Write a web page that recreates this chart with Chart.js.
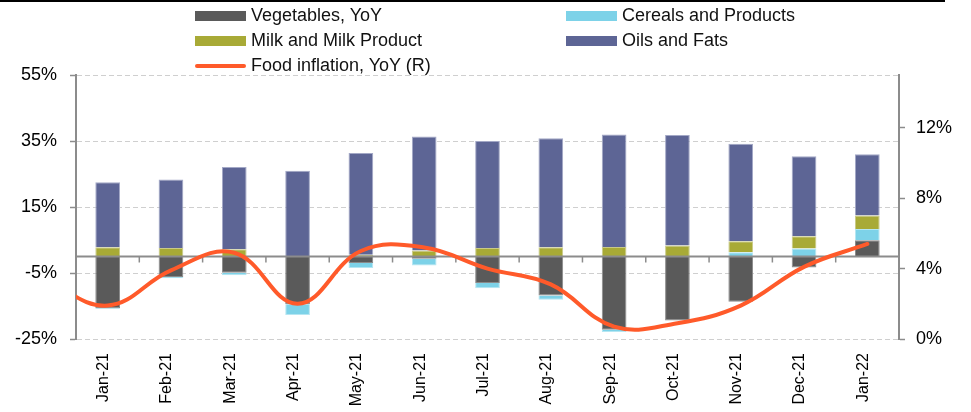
<!DOCTYPE html>
<html>
<head>
<meta charset="utf-8">
<script src="https://cdn.jsdelivr.net/npm/chart.js@4"></script>
<style>
  body { margin: 0; background: #fff; }
  #wrap { position: relative; width: 971px; height: 412px; }
  #topRule { position: absolute; left: 0; top: 0; width: 945px; height: 2px; background: #000; }
  #legend { position: absolute; left: 0; top: 0; width: 971px; height: 80px;
    font-family: 'Liberation Sans', Arial, sans-serif; font-size: 18px; color: #111; }
  .item { position: absolute; height: 25px; display: flex; align-items: center; white-space: nowrap; }
  .sw { width: 51px; height: 10px; margin-right: 5px; }
  .sw.line { height: 4px; border-radius: 2px; }
</style>
</head>
<body>
<div id="wrap">
  <canvas id="chart" width="971" height="412"></canvas>
  <div id="topRule"></div>
  <div id="legend"></div>
</div>
<script>
const months = ['Jan-21', 'Feb-21', 'Mar-21', 'Apr-21', 'May-21', 'Jun-21', 'Jul-21',
                'Aug-21', 'Sep-21', 'Oct-21', 'Nov-21', 'Dec-21', 'Jan-22'];
const vegetables = [-15.7, -6.2, -4.9, -14.5, -2.0, -0.7, -8.0, -11.8, -22.2, -19.4, -13.7, -3.3, 4.9];
const cereals = [-0.2, -0.4, -0.8, -3.2, -1.5, -2.0, -1.6, -1.3, -0.7, 0.0, 1.3, 2.4, 3.4];
const milk = [2.8, 2.6, 2.2, 0.1, 0.5, 1.8, 2.6, 2.8, 2.9, 3.3, 3.3, 3.7, 4.1];
const oils = [19.7, 20.7, 24.9, 25.9, 30.9, 34.6, 32.4, 33.0, 34.1, 33.5, 29.6, 24.3, 18.6];
// food inflation (right axis); the line enters from the previous month at the left edge
const prevMonth = 'Dec-20';
const prevFoodInflation = 3.4;
const foodInflation = [1.9, 3.9, 4.9, 2.0, 5.0, 5.2, 4.0, 3.1, 0.7, 0.9, 1.9, 4.1, 5.4];
const leftTicks = [-25, -5, 15, 35, 55];
const rightTicks = [0, 4, 8, 12];

Chart.defaults.font.family = "'Liberation Sans', Arial, sans-serif";
Chart.defaults.color = '#000';

const axisGray = '#8c8c8c';

// zero line with small category marks, drawn under the food inflation line
const zeroLine = {
    id: 'zeroLine',
    beforeDatasetDraw(chart, args) {
        if (args.meta.type !== 'line') return;
        const {ctx, chartArea, scales} = chart;
        const y0 = scales.y.getPixelForValue(0);
        ctx.save();
        ctx.strokeStyle = axisGray;
        ctx.lineWidth = 2;
        ctx.beginPath();
        ctx.moveTo(chartArea.left, y0);
        ctx.lineTo(chartArea.right, y0);
        ctx.stroke();
        ctx.lineWidth = 1.5;
        for (let i = 1; i < months.length; i++) {
            const x = (scales.x.getPixelForValue(i - 1) + scales.x.getPixelForValue(i)) / 2;
            ctx.beginPath();
            ctx.moveTo(x, y0);
            ctx.lineTo(x, y0 + 6);
            ctx.stroke();
        }
        ctx.restore();
    }
};

const barDefaults = { type: 'bar', yAxisID: 'y', xAxisID: 'x', stack: 's', grouped: false,
    categoryPercentage: 1, barPercentage: 0.39, borderWidth: 1 };

const chart = new Chart(document.getElementById('chart'), {
    type: 'bar',
    data: {
        labels: months,
        datasets: [
            Object.assign({ label: 'Vegetables, YoY', data: vegetables,
                backgroundColor: '#5a5a5a', borderColor: '#8a8a8a' }, barDefaults),
            Object.assign({ label: 'Cereals and Products', data: cereals,
                backgroundColor: '#7dd2e8', borderColor: '#b5e6f2' }, barDefaults),
            Object.assign({ label: 'Milk and Milk Product', data: milk,
                backgroundColor: '#a8aa36', borderColor: '#c9ca86' }, barDefaults),
            Object.assign({ label: 'Oils and Fats', data: oils,
                backgroundColor: '#5d6595', borderColor: '#a3a8c6' }, barDefaults),
            {
                type: 'line', label: 'Food inflation, YoY (R)',
                data: [prevFoodInflation].concat(foodInflation),
                xAxisID: 'xl', yAxisID: 'yr', order: -1,
                borderColor: '#ff5a2a', borderWidth: 4, pointRadius: 0,
                tension: 0.4, fill: false, borderCapStyle: 'round'
            }
        ]
    },
    options: {
        responsive: false,
        animation: false,
        layout: { padding: { top: 75, left: 0, right: 0, bottom: 0 } },
        plugins: { legend: { display: false }, tooltip: { enabled: false } },
        scales: {
            x: {
                type: 'category', position: 'bottom', offset: true, stacked: true,
                grid: { display: false, drawTicks: false },
                border: { display: false },
                ticks: { minRotation: 90, maxRotation: 90, autoSkip: false, padding: 14,
                    labelOffset: -4, font: { size: 16 }, color: '#000' },
                afterFit(scale) { scale.height = 73; }
            },
            xl: {
                type: 'category', labels: [prevMonth].concat(months),
                min: months[0], max: months[months.length - 1], offset: true, display: false
            },
            y: {
                position: 'left', min: -25, max: 55, stacked: true,
                afterBuildTicks(scale) { scale.ticks = leftTicks.map(v => ({ value: v })); },
                ticks: { callback: v => v + '%', font: { size: 18 }, padding: 13, color: '#000' },
                grid: { color: '#cfcfcf', lineWidth: 1, tickLength: 6, tickColor: axisGray,
                    tickWidth: 1.5, tickBorderDash: [] },
                border: { display: true, color: axisGray, width: 2, dash: [5, 3] },
                afterFit(scale) { scale.width = 76; }
            },
            yr: {
                position: 'right', min: 0, max: 15,
                afterBuildTicks(scale) { scale.ticks = rightTicks.map(v => ({ value: v })); },
                ticks: { callback: v => v + '%', font: { size: 18 }, padding: 11, color: '#000' },
                grid: { drawOnChartArea: false, tickLength: 6, tickColor: axisGray, tickWidth: 1.5 },
                border: { display: true, color: axisGray, width: 2 },
                afterFit(scale) { scale.width = 72; }
            }
        }
    },
    plugins: [zeroLine]
});

// legend in two columns, as in the source
const legendPos = [
    { ds: 0, left: 195, top: 3 },
    { ds: 1, left: 566, top: 3 },
    { ds: 2, left: 195, top: 28 },
    { ds: 3, left: 566, top: 28 },
    { ds: 4, left: 195, top: 53 }
];
const legendEl = document.getElementById('legend');
legendPos.forEach(p => {
    const ds = chart.data.datasets[p.ds];
    const item = document.createElement('div');
    item.className = 'item';
    item.style.left = p.left + 'px';
    item.style.top = p.top + 'px';
    const sw = document.createElement('span');
    sw.className = ds.type === 'line' ? 'sw line' : 'sw';
    sw.style.background = ds.type === 'line' ? ds.borderColor : ds.backgroundColor;
    const txt = document.createElement('span');
    txt.textContent = ds.label;
    item.appendChild(sw);
    item.appendChild(txt);
    legendEl.appendChild(item);
});
</script>
</body>
</html>
